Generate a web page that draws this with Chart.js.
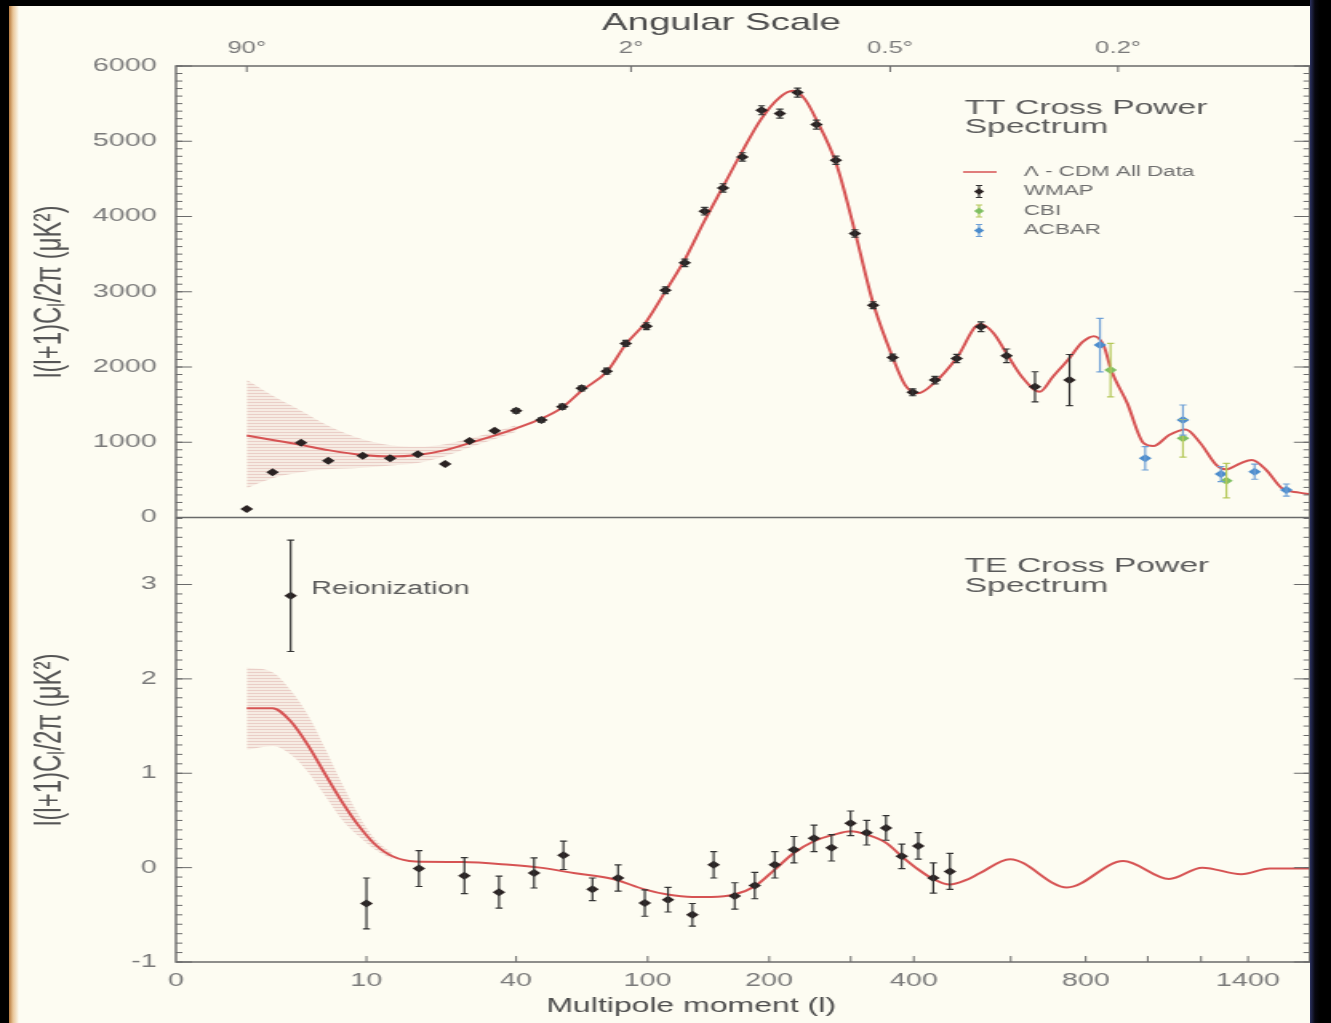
<!DOCTYPE html>
<html lang="en">
<head>
<meta charset="utf-8">
<title>WMAP TT and TE Cross Power Spectra</title>
<script src="https://cdn.jsdelivr.net/npm/chart.js@4.4.1/dist/chart.umd.min.js"></script>
<style>
  html, body { margin: 0; padding: 0; background: #000; overflow: hidden; }
  #page { position: relative; width: 1331px; height: 1023px; background: #fdfcf2; overflow: hidden; }
  /* the reference is stretched sideways, so the chart is drawn narrow and widened */
  #stretch { position: absolute; left: 0; top: 0; width: 832px; height: 1023px; transform: scaleX(1.59976); transform-origin: 0 0; }
  .edge { position: absolute; top: 0; height: 1023px; }
  #edgeLeft { left: 0; width: 20px; background: linear-gradient(to right, #000 0, #000 9px, #b77a3e 9px, #e9c597 13px, rgba(253,252,242,0) 19px); }
  #edgeTop { left: 0; width: 1331px; height: 6px; background: #000; }
  #edgeRight { left: 1310px; width: 21px; background: linear-gradient(to right, #2b3160 0, #07070f 5px, #000 10px); }
</style>
</head>
<body>
<div id="page">
  <div id="stretch"><canvas id="spectra" width="832" height="1023"></canvas></div>
  <div class="edge" id="edgeLeft"></div>
  <div class="edge" id="edgeTop"></div>
  <div class="edge" id="edgeRight"></div>
</div>
<script>
const FONT = "'Liberation Sans', Arial, Helvetica, sans-serif";

// axis ticks
const multipoleTicks = [0.5, 10, 40, 100, 200, 400, 800, 1400];
const multipoleLabels = ['0', '10', '40', '100', '200', '400', '800', '1400'];
const multipoleMinorTicks = [300, 600, 1000, 1200];
const angularTicks = [2, 90, 360, 900];
const angularLabels = ['90°', '2°', '0.5°', '0.2°'];
const ttTicks = [0, 1000, 2000, 3000, 4000, 5000, 6000];
const teTicks = [-1, 0, 1, 2, 3];

// TT: Lambda-CDM model and cosmic variance band
const ttModelL = [2, 3, 4.5, 6.4, 9.6, 13, 17, 22, 27, 34, 40, 48, 56, 65, 77, 87, 99, 111, 125, 140,
  156, 173, 192, 211, 226, 240, 254, 280, 306, 333, 364, 385, 407, 439, 481, 530, 560, 590, 630, 672,
  707, 752, 790, 825, 855, 878, 930, 985, 1020, 1077, 1139, 1198, 1262, 1303, 1366, 1417, 1484, 1558, 1645, 1700];
const ttModel = [1090, 1030, 965, 895, 830, 810, 830, 895, 985, 1095, 1185, 1305, 1450, 1690, 1940, 2300, 2600, 2990, 3420, 3930,
  4400, 4860, 5300, 5580, 5670, 5560, 5290, 4700, 3800, 2850, 2130, 1760, 1650, 1800, 2120, 2570, 2450, 2180, 1850, 1670,
  1870, 2114, 2330, 2410, 2280, 1960, 1520, 990, 950, 1096, 1170, 985, 700, 640, 720, 765, 630, 390, 330, 310];
const ttBandL = [2, 3, 4.5, 6.4, 9.6, 13, 17, 22, 27, 34, 40];
const ttBandHigh = [1830, 1620, 1420, 1220, 1040, 960, 940, 975, 1045, 1145, 1230];
const ttBandLow = [390, 520, 600, 640, 660, 690, 725, 815, 925, 1045, 1140];

// TT measurements
const wmapTTL = [2, 3, 4.5, 6.4, 9.6, 12.9, 17, 22, 27.3, 33.7, 40, 48.5, 56.5, 64.8, 76.8, 87, 99.2, 111.5, 125.2, 140.5,
  155.9, 173.4, 192.1, 211.4, 231.4, 254.3, 279.5, 305.9, 333.2, 364, 398, 438.6, 481, 532, 590, 660, 753];
const wmapTT = [113, 600, 993, 754, 821, 786, 839, 710, 1016, 1153, 1418, 1295, 1472, 1716, 1945, 2313, 2543, 3021, 3384, 4070,
  4380, 4792, 5412, 5368, 5647, 5222, 4748, 3774, 2822, 2125, 1663, 1826, 2114, 2534, 2149, 1737, 1826];
const wmapTTErr = [0, 0, 0, 0, 0, 0, 0, 0, 0, 0, 30, 30, 35, 35, 40, 40, 45, 45, 50, 50,
  55, 55, 60, 60, 60, 60, 55, 50, 45, 45, 45, 50, 55, 65, 90, 200, 340];
const cbiL = [876, 1129, 1305];
const cbiTT = [1959, 1052, 490];
const cbiErr = [355, 250, 230];
const acbarL = [843, 991, 1129, 1282, 1430, 1581];
const acbarTT = [2291, 786, 1295, 578, 608, 365];
const acbarErr = [355, 155, 200, 100, 100, 80];

// TE: model, band and measurements
const teModelL = [2, 3, 3.9, 5, 6.2, 7.6, 9.2, 11, 13.2, 16.6, 25.6, 38, 48, 62, 80, 98, 113, 131, 146, 166,
  185, 206, 227, 251, 277, 300, 323, 354, 379, 408, 435, 467, 501, 529, 598, 746, 917, 1077, 1205, 1370, 1500, 1700];
const teModel = [1.69, 1.69, 1.55, 1.28, 0.98, 0.69, 0.44, 0.245, 0.12, 0.065, 0.06, 0.03, 0, -0.06, -0.12, -0.23, -0.285, -0.31, -0.31, -0.285,
  -0.2, -0.02, 0.155, 0.28, 0.35, 0.385, 0.35, 0.26, 0.12, -0.02, -0.12, -0.18, -0.13, -0.06, 0.09, -0.21, 0.07, -0.12, 0, -0.07, -0.01, -0.01];
const teBandL = [2, 3, 3.9, 5, 6.2, 7.6, 9.2, 11, 13.2];
const teBandHigh = [2.12, 2.07, 1.88, 1.6, 1.25, 0.88, 0.55, 0.3, 0.15];
const teBandLow = [1.25, 1.29, 1.2, 1.0, 0.75, 0.5, 0.33, 0.19, 0.09];
const wmapTEL = [3.9, 10, 17.2, 26.1, 34.9, 45.9, 57, 69.8, 82.8, 98.2, 113.3, 130.9, 147.9, 166.3, 185.3,
  205.9, 227.1, 251.2, 273.7, 299.8, 323.3, 353.3, 379.3, 407.9, 435.5, 467.5];
const wmapTE = [2.88, -0.38, -0.01, -0.085, -0.26, -0.056, 0.13, -0.23, -0.11, -0.375, -0.34, -0.5, 0.03, -0.3, -0.19,
  0.03, 0.19, 0.31, 0.21, 0.47, 0.37, 0.42, 0.12, 0.23, -0.11, -0.04];
const wmapTEErr = [0.59, 0.27, 0.19, 0.19, 0.17, 0.16, 0.15, 0.12, 0.14, 0.14, 0.13, 0.12, 0.14, 0.14, 0.14,
  0.14, 0.14, 0.14, 0.14, 0.13, 0.13, 0.13, 0.13, 0.14, 0.16, 0.19];

const ttTitle = ['TT Cross Power', 'Spectrum'];
const teTitle = ['TE Cross Power', 'Spectrum'];

// the multipole axis is linear in l^(1/4)
class QuarticRootScale extends Chart.LinearScale {
  _root(v) { return Math.pow(Math.max(v, 0), 0.25); }
  getPixelForValue(value) {
    if (value === null || value === undefined || isNaN(value)) return NaN;
    const a = this._root(this.min), b = this._root(this.max);
    return this.getPixelForDecimal((this._root(value) - a) / (b - a));
  }
  getValueForPixel(pixel) {
    const a = this._root(this.min), b = this._root(this.max);
    return Math.pow(a + this.getDecimalForPixel(pixel) * (b - a), 4);
  }
}
QuarticRootScale.id = 'quarticRoot';
QuarticRootScale.defaults = {};
Chart.register(QuarticRootScale);

const xy = (ls, vs) => ls.map((l, i) => ({ x: l, y: vs[i] }));
const steps = (from, to, step) => {
  const out = [];
  for (let v = from; v <= to + 1e-9; v += step) out.push(+v.toFixed(3));
  return out;
};

function hatch() {
  const c = document.createElement('canvas');
  c.width = 4; c.height = 3;
  const g = c.getContext('2d');
  g.fillStyle = 'rgba(215, 165, 160, 0.18)';
  g.fillRect(0, 0, 4, 3);
  g.fillStyle = 'rgba(205, 140, 135, 0.30)';
  g.fillRect(0, 0, 4, 1);
  return g.createPattern(c, 'repeat');
}
const bandFill = hatch();
const MODEL_RED = '#d65353';

const markers = (label, ls, vs, errs, color, errColor, row, yAxisID) => ({
  label, data: xy(ls, vs), errors: errs, errorColor: errColor, legendRow: row,
  xAxisID: 'x', yAxisID, showLine: false, order: 0,
  pointStyle: 'rectRot', pointRadius: 4, pointHoverRadius: 4, pointBorderWidth: 0,
  pointBackgroundColor: color, backgroundColor: color, borderColor: color
});
const model = (label, ls, vs, yAxisID, row) => ({
  label, data: xy(ls, vs), xAxisID: 'x', yAxisID, legendRow: row, order: 1,
  borderColor: MODEL_RED, borderWidth: 2, pointRadius: 0, fill: false, cubicInterpolationMode: 'monotone'
});
const band = (ls, vs, yAxisID, fill) => ({
  label: '', data: xy(ls, vs), xAxisID: 'x', yAxisID, order: 2,
  borderWidth: 0, pointRadius: 0, backgroundColor: bandFill, fill, cubicInterpolationMode: 'monotone'
});

const errorBars = {
  id: 'errorBars',
  afterDatasetsDraw(chart) {
    const ctx = chart.ctx;
    chart.data.datasets.forEach((ds, i) => {
      if (!ds.errors) return;
      const meta = chart.getDatasetMeta(i);
      const ys = chart.scales[ds.yAxisID];
      ctx.save();
      ctx.strokeStyle = ds.errorColor;
      ctx.lineWidth = 1.2;
      meta.data.forEach((pt, j) => {
        const e = ds.errors[j];
        if (!e) return;
        const top = ys.getPixelForValue(ds.data[j].y + e);
        const bottom = ys.getPixelForValue(ds.data[j].y - e);
        ctx.beginPath();
        ctx.moveTo(pt.x, top); ctx.lineTo(pt.x, bottom);
        ctx.moveTo(pt.x - 2.2, top); ctx.lineTo(pt.x + 2.2, top);
        ctx.moveTo(pt.x - 2.2, bottom); ctx.lineTo(pt.x + 2.2, bottom);
        ctx.stroke();
      });
      ctx.restore();
    });
  }
};

const frameTicks = {
  id: 'frameTicks',
  afterDatasetsDraw(chart) {
    const { ctx, chartArea: a, scales } = chart;
    ctx.save();
    ctx.strokeStyle = '#6a6a6a';
    ctx.lineWidth = 1.4;
    ctx.beginPath();
    ctx.rect(a.left, a.top, a.right - a.left, a.bottom - a.top);
    ctx.moveTo(a.left, scales.yTE.top);
    ctx.lineTo(a.right, scales.yTE.top);
    ctx.stroke();

    ctx.lineWidth = 1;
    ctx.beginPath();
    const side = (scale, values, len) => values.forEach(v => {
      const y = scale.getPixelForValue(v);
      ctx.moveTo(a.left, y); ctx.lineTo(a.left + len, y);
      ctx.moveTo(a.right, y); ctx.lineTo(a.right - len, y);
    });
    side(scales.yTT, steps(0, 6000, 100), 4);
    side(scales.yTT, ttTicks, 10);
    side(scales.yTE, steps(-1, 3.7, 0.1), 4);
    side(scales.yTE, teTicks, 10);
    multipoleTicks.slice(1).concat(multipoleMinorTicks).forEach(v => {
      const x = scales.x.getPixelForValue(v);
      ctx.moveTo(x, a.bottom); ctx.lineTo(x, a.bottom - 6);
    });
    angularTicks.forEach(v => {
      const x = scales.x2.getPixelForValue(v);
      ctx.moveTo(x, a.top); ctx.lineTo(x, a.top + 6);
    });
    ctx.stroke();
    ctx.restore();
  }
};

const annotations = {
  id: 'annotations',
  afterDraw(chart) {
    const { ctx, chartArea: a } = chart;
    ctx.save();
    ctx.textBaseline = 'middle';
    ctx.textAlign = 'center';
    ctx.fillStyle = '#4d4d4d';
    ctx.font = `24px ${FONT}`;
    ctx.fillText('Angular Scale', 451, 23);
    ctx.font = `20px ${FONT}`;
    ctx.fillText('Multipole moment (l)', 432, 1006);

    ctx.textAlign = 'left';
    ctx.fillStyle = '#5a5a5a';
    ctx.font = `21px ${FONT}`;
    ttTitle.forEach((t, i) => ctx.fillText(t, a.left + 493, 108 + i * 19.5));
    teTitle.forEach((t, i) => ctx.fillText(t, a.left + 493, 566 + i * 20));
    ctx.font = `18px ${FONT}`;
    ctx.fillText('Reionization', 194.5, 589);

    // legend
    ctx.font = `14px ${FONT}`;
    const sx = a.left + 502;
    chart.data.datasets.forEach(ds => {
      if (ds.legendRow === undefined) return;
      const y = 172 + ds.legendRow * 19.5;
      if (ds.showLine === false) {
        ctx.strokeStyle = ds.errorColor;
        ctx.lineWidth = 1.2;
        ctx.beginPath();
        ctx.moveTo(sx, y - 6); ctx.lineTo(sx, y + 6);
        ctx.moveTo(sx - 2, y - 6); ctx.lineTo(sx + 2, y - 6);
        ctx.moveTo(sx - 2, y + 6); ctx.lineTo(sx + 2, y + 6);
        ctx.stroke();
        ctx.fillStyle = ds.pointBackgroundColor;
        Chart.helpers.drawPoint(ctx, { pointStyle: 'rectRot', radius: 3.2, rotation: 0, borderWidth: 0 }, sx, y);
      } else {
        ctx.strokeStyle = ds.borderColor;
        ctx.lineWidth = 1.5;
        ctx.beginPath();
        ctx.moveTo(sx - 10, y); ctx.lineTo(sx + 11, y);
        ctx.stroke();
      }
      ctx.fillStyle = '#6e6e6e';
      ctx.fillText(ds.label, a.left + 530, y);
    });
    ctx.restore();
  }
};

const fixedTicks = values => scale => { scale.ticks = values.map(v => ({ value: v })); };
const tickFont = { family: FONT, size: 18 };
const yTitleFont = { family: FONT, size: 24 };
const noGrid = { display: false, drawTicks: false };

Chart.defaults.font.family = FONT;

new Chart(document.getElementById('spectra'), {
  type: 'line',
  data: {
    datasets: [
      markers('WMAP', wmapTTL, wmapTT, wmapTTErr, '#2a2222', '#333333', 1, 'yTT'),
      markers('CBI', cbiL, cbiTT, cbiErr, '#7fbf62', '#b5c85a', 2, 'yTT'),
      markers('ACBAR', acbarL, acbarTT, acbarErr, '#4a8bcc', '#6fa0d6', 3, 'yTT'),
      markers('WMAP TE', wmapTEL, wmapTE, wmapTEErr, '#2a2222', '#333333', undefined, 'yTE'),
      model('Λ - CDM All Data', ttModelL, ttModel, 'yTT', 0),
      model('Λ - CDM TE', teModelL, teModel, 'yTE', undefined),
      band(ttBandL, ttBandHigh, 'yTT', '+1'),
      band(ttBandL, ttBandLow, 'yTT', false),
      band(teBandL, teBandHigh, 'yTE', '+1'),
      band(teBandL, teBandLow, 'yTE', false)
    ]
  },
  options: {
    responsive: false,
    animation: false,
    events: [],
    layout: { padding: { left: 0, right: 13.25, top: 0, bottom: 0 } },
    plugins: { legend: { display: false }, tooltip: { enabled: false } },
    scales: {
      x: {
        type: 'quarticRoot', position: 'bottom', min: 0.5, max: 1700,
        afterBuildTicks: fixedTicks(multipoleTicks),
        afterFit: s => { s.height = 61; },
        grid: noGrid, border: { display: false },
        ticks: { autoSkip: false, maxRotation: 0, padding: 8, color: '#7a7a7a', font: tickFont,
          callback: (v, i) => multipoleLabels[i] }
      },
      x2: {
        type: 'quarticRoot', position: 'top', min: 0.5, max: 1700,
        afterBuildTicks: fixedTicks(angularTicks),
        afterFit: s => { s.height = 66; },
        grid: noGrid, border: { display: false },
        ticks: { autoSkip: false, maxRotation: 0, padding: 8, color: '#7a7a7a', font: { family: FONT, size: 16 },
          callback: (v, i) => angularLabels[i] }
      },
      yTE: {
        type: 'linear', position: 'left', stack: 'panels', stackWeight: 444.5, min: -1, max: 3.71,
        afterBuildTicks: fixedTicks(teTicks),
        afterFit: s => { s.width = 110; },
        grid: noGrid, border: { display: false },
        ticks: { padding: 12, color: '#7a7a7a', font: tickFont, callback: v => String(v) },
        title: { display: true, text: 'l(l+1)Cₗ/2π (μK²)', color: '#555', font: yTitleFont, padding: { top: 17, bottom: 0 } }
      },
      yTT: {
        type: 'linear', position: 'left', stack: 'panels', stackWeight: 451.5, min: 0, max: 6000,
        afterBuildTicks: fixedTicks(ttTicks),
        afterFit: s => { s.width = 110; },
        grid: noGrid, border: { display: false },
        ticks: { padding: 12, color: '#7a7a7a', font: tickFont, callback: v => String(v) },
        title: { display: true, text: 'l(l+1)Cₗ/2π (μK²)', color: '#555', font: yTitleFont, padding: { top: 17, bottom: 0 } }
      }
    }
  },
  plugins: [errorBars, frameTicks, annotations]
});
</script>
</body>
</html>
